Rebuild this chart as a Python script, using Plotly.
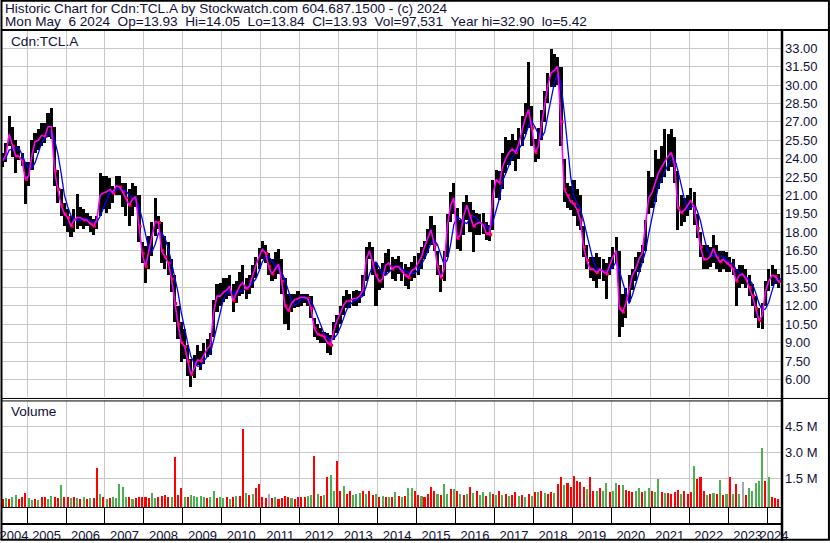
import pandas as pd
import plotly.graph_objects as go

# ─── Data (monthly, May 2004 .. May 2024) ────────────────────────────────────

months = pd.date_range("2004-05-01", "2024-05-01", freq="MS")

price_high = [
    24.5, 25.3, 27.5, 26.6, 25.5, 25.0, 24.5, 23.7,                          # 2004
    23.7, 25.5, 26.1, 26.4, 26.9, 26.9, 27.7, 28.1, 26.6, 23.1, 21.5, 20.4,  # 2005
    19.9, 19.3, 19.9, 21.1, 20.1, 19.9, 19.6, 19.3, 19.1, 19.3, 22.8, 22.6,  # 2006
    22.6, 22.4, 21.8, 22.6, 22.6, 22.0, 22.0, 21.5, 22.0, 21.8, 21.0, 17.2,  # 2007
    16.9, 17.7, 18.8, 20.8, 19.3, 18.8, 17.7, 17.2, 15.8, 14.5, 12.0, 10.7,  # 2008
    10.1, 8.8, 7.7, 8.0, 8.8, 8.3, 9.0, 9.3, 9.8, 12.5, 13.8, 13.9,          # 2009
    14.3, 14.3, 14.5, 13.8, 14.0, 14.8, 15.3, 14.3, 14.5, 15.3, 16.0, 16.7,  # 2010
    17.3, 17.0, 16.3, 15.8, 16.4, 16.6, 15.8, 14.3, 13.0, 13.0, 13.0, 13.2,  # 2011
    13.0, 13.0, 13.0, 12.8, 11.0, 10.5, 10.2, 9.9, 9.8, 9.6, 10.7, 11.3,     # 2012
    12.0, 12.8, 13.3, 13.0, 13.2, 13.3, 13.2, 14.5, 16.8, 17.2, 16.8, 15.5,  # 2013
    15.0, 15.5, 16.3, 16.6, 16.0, 15.8, 16.1, 15.6, 15.4, 15.2, 15.6, 16.1,  # 2014
    16.3, 16.8, 17.3, 18.3, 19.3, 18.6, 16.5, 15.3, 16.5, 19.5, 21.3, 22.0,  # 2015
    20.0, 19.0, 20.5, 21.0, 20.5, 19.8, 19.6, 19.5, 19.6, 18.8, 18.6, 22.3,  # 2016
    23.1, 23.0, 24.5, 25.8, 25.5, 26.0, 25.5, 26.5, 27.5, 28.5, 31.9, 28.3,  # 2017
    25.6, 26.5, 28.0, 29.5, 31.0, 32.9, 32.5, 32.3, 31.5, 24.0, 22.0, 21.8,  # 2018
    22.3, 21.5, 21.0, 18.5, 17.0, 16.0, 16.0, 16.3, 16.0, 15.8, 15.5, 16.0,  # 2019
    16.8, 17.6, 16.5, 13.0, 13.5, 14.5, 15.0, 16.0, 16.4, 17.0, 19.0, 23.0,  # 2020
    22.5, 24.7, 24.0, 25.0, 26.4, 26.0, 26.4, 25.8, 23.0, 21.0, 20.8, 21.0,  # 2021
    21.6, 21.3, 19.5, 18.0, 17.0, 17.0, 16.8, 17.8, 17.0, 16.5, 16.5, 16.4,  # 2022
    16.0, 15.8, 15.0, 15.3, 15.3, 15.0, 14.5, 13.8, 12.8, 11.8, 12.2, 14.0,  # 2023
    15.0, 15.3, 15.0, 14.6, 14.05,                                           # 2024
]

price_low = [
    23.3, 23.7, 25.0, 24.1, 22.8, 23.9, 23.4, 20.3,
    21.8, 23.1, 24.5, 24.7, 25.0, 25.3, 25.8, 25.6, 21.8, 20.4, 19.3, 18.5,
    18.0, 17.6, 18.0, 18.3, 18.5, 18.3, 18.5, 18.0, 17.8, 18.3, 19.3, 19.9,
    19.6, 19.9, 20.4, 21.0, 21.0, 20.1, 19.3, 18.5, 19.3, 20.1, 17.2, 15.5,
    13.9, 15.0, 16.1, 17.7, 18.3, 15.5, 15.0, 14.5, 13.1, 10.7, 9.3, 7.4,
    7.7, 6.3, 5.42, 6.1, 7.2, 6.8, 7.3, 7.8, 8.0, 9.5, 11.5, 12.0,
    12.3, 12.6, 12.8, 11.5, 12.2, 12.8, 13.0, 12.6, 13.0, 13.5, 14.3, 15.0,
    15.8, 15.5, 14.5, 14.0, 14.2, 14.6, 13.0, 10.5, 10.0, 11.5, 11.8, 11.9,
    12.0, 12.2, 12.0, 11.0, 9.5, 9.2, 9.0, 9.0, 8.2, 8.0, 9.2, 9.8,
    10.5, 11.3, 11.8, 11.8, 12.0, 12.0, 12.2, 12.8, 14.0, 15.8, 14.5, 12.0,
    13.3, 13.5, 14.5, 14.8, 14.2, 14.0, 14.6, 14.0, 13.6, 13.4, 14.0, 14.3,
    14.5, 15.0, 15.8, 16.3, 17.0, 16.5, 14.5, 13.1, 14.0, 16.0, 18.8, 19.5,
    16.6, 16.5, 17.8, 19.0, 18.0, 16.4, 17.8, 17.8, 17.9, 17.4, 17.3, 18.2,
    20.8, 20.6, 21.5, 22.8, 23.5, 23.8, 23.0, 24.0, 25.0, 26.0, 26.5, 25.0,
    23.7, 24.0, 25.5, 27.0, 28.5, 29.8, 29.8, 30.0, 25.0, 20.5, 20.0, 19.8,
    19.3, 18.5, 18.2, 16.0, 15.0, 14.3, 14.0, 13.5, 14.2, 14.0, 12.6, 14.5,
    15.0, 15.5, 9.5, 10.3, 11.0, 12.3, 13.3, 14.0, 14.8, 15.5, 16.5, 19.5,
    20.0, 20.5, 21.5, 22.0, 22.5, 23.0, 23.3, 22.0, 18.2, 18.5, 18.8, 19.3,
    19.8, 18.6, 17.5, 16.0, 15.0, 15.0, 15.2, 15.5, 15.0, 14.8, 15.0, 14.8,
    14.8, 14.5, 12.0, 13.5, 13.8, 13.5, 12.8, 12.0, 11.0, 10.2, 10.1, 12.0,
    13.2, 13.6, 13.8, 13.5, 13.84,
]

price_close = [
    23.8, 24.3, 26.0, 25.0, 24.2, 24.2, 23.8, 22.3,
    22.6, 24.3, 25.4, 25.5, 25.9, 25.8, 26.6, 26.6, 23.0, 21.5, 20.2, 19.5,
    19.2, 18.5, 19.0, 19.2, 19.2, 19.0, 19.0, 18.7, 18.5, 19.0, 21.0, 21.2,
    21.3, 21.5, 21.2, 21.8, 21.7, 21.3, 20.8, 20.2, 20.7, 20.9, 18.5, 16.3,
    15.2, 16.5, 17.5, 18.9, 18.8, 16.5, 16.0, 15.5, 14.2, 12.2, 10.5, 9.0,
    8.7, 7.5, 6.4, 6.9, 7.6, 7.5, 8.0, 8.5, 8.8, 11.5, 12.8, 12.8,
    13.1, 13.3, 13.6, 12.4, 13.0, 13.6, 13.9, 13.4, 13.6, 14.5, 15.3, 16.0,
    16.6, 16.3, 15.2, 14.6, 15.0, 15.4, 14.0, 12.0, 11.6, 12.2, 12.5, 12.6,
    12.7, 12.7, 12.6, 11.8, 10.2, 9.7, 9.6, 9.5, 9.0, 8.8, 10.0, 10.8,
    11.4, 12.1, 12.4, 12.4, 12.6, 12.6, 12.8, 13.3, 15.8, 16.5, 15.5, 14.5,
    14.0, 14.2, 15.3, 15.5, 15.0, 15.2, 15.2, 14.8, 14.5, 14.3, 14.9, 15.0,
    15.5, 16.0, 16.8, 17.5, 18.2, 17.0, 15.2, 14.3, 15.0, 18.5, 20.2, 20.8,
    17.5, 17.8, 19.3, 20.2, 19.3, 18.5, 18.7, 18.8, 18.6, 17.9, 17.8, 21.0,
    22.3, 22.0, 23.3, 24.0, 24.5, 24.8, 24.5, 25.2, 26.3, 27.3, 28.0, 26.5,
    24.5, 25.0, 26.7, 28.5, 30.0, 31.0, 31.2, 31.5, 27.0, 21.5, 21.0, 20.5,
    20.3, 19.8, 19.0, 16.8, 15.7, 15.0, 15.0, 14.7, 15.0, 14.8, 14.6, 15.3,
    16.0, 16.5, 11.8, 11.5, 12.2, 13.3, 14.5, 15.0, 15.8, 16.3, 18.5, 20.8,
    21.2, 22.0, 22.8, 23.3, 23.8, 24.2, 24.5, 23.5, 20.0, 19.6, 19.8, 20.2,
    20.6, 20.0, 18.3, 16.8, 15.8, 15.8, 16.0, 16.7, 16.0, 15.6, 15.8, 15.5,
    15.3, 15.0, 14.0, 14.5, 14.6, 14.2, 13.5, 12.8, 11.8, 10.8, 11.2, 13.2,
    14.0, 14.5, 14.4, 14.0, 13.93,
]

# volume in millions of shares
volume_m = [
    0.30, 0.35, 0.30, 0.40, 0.55, 0.30, 0.45, 0.65,
    0.35, 0.25, 0.30, 0.25, 0.40, 0.45, 0.30, 0.50, 0.40, 0.35, 1.13, 0.45,
    0.40, 0.35, 0.45, 0.35, 0.30, 0.40, 0.30, 0.35, 0.35, 2.09, 0.60, 0.40,
    0.30, 0.35, 0.40, 0.35, 1.20, 1.00, 0.45, 0.40, 0.30, 0.35, 0.45, 0.45,
    0.45, 0.35, 0.65, 0.35, 0.40, 0.50, 0.55, 0.45, 0.45, 2.75, 0.55, 0.94,
    0.45, 0.45, 0.55, 0.50, 0.45, 0.50, 0.40, 0.35, 0.45, 0.75, 0.35, 0.40,
    0.35, 0.40, 0.30, 0.45, 0.50, 0.50, 4.34, 0.65, 0.55, 0.60, 0.94, 1.20,
    0.40, 0.35, 0.60, 0.35, 0.40, 0.30, 0.35, 0.50, 0.45, 0.35, 0.30, 0.45,
    0.40, 0.45, 0.50, 0.55, 2.80, 0.60, 0.50, 0.55, 1.57, 1.70, 0.80, 2.50,
    0.80, 1.07, 0.60, 0.75, 0.55, 0.60, 0.65, 0.75, 0.60, 0.80, 0.55, 0.60,
    0.45, 0.50, 0.45, 0.40, 0.45, 0.70, 0.50, 0.45, 0.50, 0.94, 0.94, 0.75,
    0.55, 0.50, 0.45, 0.60, 1.03, 0.80, 0.60, 0.55, 1.19, 0.60, 0.88, 0.90,
    0.75, 0.60, 0.55, 0.60, 1.00, 0.65, 0.80, 0.55, 0.70, 0.50, 0.70, 0.60,
    0.55, 0.80, 0.55, 0.60, 0.50, 0.55, 0.70, 0.50, 0.55, 0.45, 0.60, 0.50,
    0.70, 0.70, 0.75, 0.65, 0.60, 0.70, 0.65, 1.20, 1.60, 1.15, 1.26, 1.00,
    1.65, 1.35, 1.32, 1.00, 0.90, 1.61, 0.80, 0.75, 0.94, 0.80, 1.22, 0.70,
    0.80, 1.26, 1.10, 1.10, 0.85, 0.80, 0.70, 0.80, 0.94, 0.70, 0.75, 0.94,
    0.80, 0.70, 1.46, 0.70, 0.65, 0.65, 0.60, 0.70, 0.85, 0.60, 0.75, 0.60,
    0.70, 2.22, 1.46, 1.61, 0.80, 0.55, 0.60, 0.65, 0.60, 1.42, 0.55, 0.60,
    1.57, 0.60, 1.19, 0.60, 1.32, 0.55, 0.94, 0.80, 1.26, 1.38, 3.24, 1.38,
    1.57, 0.40, 0.35, 0.30, 0.10,
]

# colour of the dominant volume bar each month: g = up, r = down, n = unchanged
volume_dir = (
    "rgrggrrr"
    "ggrgrrggrrgr" "rgrgrgrgrrgr" "grgggggrgrrr" "rrggrrrrgrrr"
    "grgggggrggrg" "grgrgrrgrgrr" "rrnrgrrrrgrr" "rrggrgrgrggr"
    "rgrrgggrgrrg" "rgrgrgrgrggr" "rgrrrrgrggrg" "rgrgrgrggrgr"
    "grgrgrrgrgrg" "rgrgrrgrrgrr" "rrrrgrrgrggr" "ggrgrrrggrgg"
    "rggrgrrrrgrr" "rgrrrgrgrgrg" "rgrgnrgggggr"
    "grrrr"
)

years = list(range(2004, 2025))
price_ticks = [6.0, 7.5, 9.0, 10.5, 12.0, 13.5, 15.0, 16.5, 18.0, 19.5,
               21.0, 22.5, 24.0, 25.5, 27.0, 28.5, 30.0, 31.5, 33.0]
volume_ticks = [1.5e6, 3.0e6, 4.5e6]
volume_tick_text = ["1.5 M", "3.0 M", "4.5 M"]

title_line1 = "Historic Chart for Cdn:TCL.A by Stockwatch.com 604.687.1500 - (c) 2024"
title_line2 = ("Mon May  6 2024  Op=13.93  Hi=14.05  Lo=13.84  Cl=13.93  "
               "Vol=97,531  Year hi=32.90  lo=5.42")

# ─── Style ───────────────────────────────────────────────────────────────────

W, H = 830, 543
PLOT_L, PLOT_R, PLOT_T, PLOT_B = 0, 781, 31, 509
X_START, X_END = pd.Timestamp("2004-05-01"), pd.Timestamp("2024-05-10")
PRICE_RANGE = [4.539, 34.404]
VOL_FLOOR = -0.156e6
VOL_RANGE = [VOL_FLOOR, 5.989e6]

TEXT = "#10103a"
GRID = "#c8c8c8"
GREEN = "#4caf50"
RED = "#ff0000"
FONT = "Liberation Sans, Arial, sans-serif"
DAY_MS = 86400000


def px_x(px):
    return (px - PLOT_L) / (PLOT_R - PLOT_L)


def px_y(py):
    return (PLOT_B - py) / (PLOT_B - PLOT_T)


mid = months + pd.Timedelta(days=15)
close_s = pd.Series(price_close)
ma_long = close_s.rolling(4, min_periods=1).mean()
down = close_s.diff() < 0

vol_colors = {"g": GREEN, "r": RED, "n": "#a8a8a8"}

year_starts = [pd.Timestamp(f"{y}-01-01") for y in years[1:]]
label_pos = []
for y in years:
    a = max(pd.Timestamp(f"{y}-01-01"), X_START)
    b = min(pd.Timestamp(f"{y + 1}-01-01"), X_END)
    label_pos.append(a + (b - a) / 2)

# ─── Figure ──────────────────────────────────────────────────────────────────

fig = go.Figure()

fig.add_trace(go.Bar(
    x=mid, y=[h - l for h, l in zip(price_high, price_low)], base=price_low,
    width=29 * DAY_MS, marker=dict(color="black", line=dict(width=0)),
    xaxis="x", yaxis="y",
))
fig.add_trace(go.Scatter(
    x=(months + pd.Timedelta(days=25))[down], y=close_s[down],
    mode="markers", marker=dict(symbol="square", size=3, color=RED),
    xaxis="x", yaxis="y",
))
fig.add_trace(go.Scatter(
    x=mid, y=ma_long, mode="lines", line=dict(color="#0000ff", width=1.3),
    xaxis="x", yaxis="y",
))
fig.add_trace(go.Scatter(
    x=mid, y=price_close, mode="lines", line=dict(color="#ff00ff", width=1.6),
    xaxis="x", yaxis="y",
))

fig.add_trace(go.Bar(
    x=mid, y=[v * 1e6 - VOL_FLOOR for v in volume_m], base=VOL_FLOOR,
    width=19 * DAY_MS,
    marker=dict(color=[vol_colors[c] for c in volume_dir], line=dict(width=0)),
    xaxis="x2", yaxis="y2",
))

axis_font = dict(family=FONT, size=13, color=TEXT)
head_font = dict(family=FONT, size=13.6, color=TEXT)

fig.update_layout(
    width=W, height=H,
    margin=dict(l=PLOT_L, r=W - PLOT_R, t=PLOT_T, b=H - PLOT_B),
    paper_bgcolor="white", plot_bgcolor="white",
    showlegend=False, bargap=0,
    font=axis_font,
    xaxis=dict(
        type="date", range=[X_START, X_END], domain=[0, 1], anchor="y",
        tickmode="array", tickvals=year_starts, showticklabels=False,
        showgrid=True, gridcolor=GRID, gridwidth=1, zeroline=False, ticks="",
    ),
    xaxis2=dict(
        type="date", range=[X_START, X_END], domain=[0, 1], anchor="y2",
        matches="x",
        tickmode="array", tickvals=label_pos, ticktext=[str(y) for y in years],
        tickangle=0, ticklabeloverflow="allow",
        showgrid=False, ticks="", ticklabelstandoff=16, tickfont=axis_font,
        showline=True, linecolor="black", linewidth=1,
        minor=dict(tickmode="array", tickvals=year_starts, ticks="outside",
                   ticklen=17, tickcolor="black", tickwidth=1,
                   showgrid=True, gridcolor=GRID, gridwidth=1),
    ),
    yaxis=dict(
        domain=[px_y(399), 1.0], range=PRICE_RANGE, side="right", anchor="x",
        tickmode="array", tickvals=price_ticks,
        ticktext=[f"{v:.2f}" for v in price_ticks],
        showgrid=True, gridcolor=GRID, gridwidth=1, zeroline=False,
        ticks="", ticklabelstandoff=3, tickfont=axis_font,
    ),
    yaxis2=dict(
        domain=[0, px_y(402.5)], range=VOL_RANGE, side="right", anchor="x2",
        tickmode="array", tickvals=volume_ticks, ticktext=volume_tick_text,
        showgrid=True, gridcolor=GRID, gridwidth=1, zeroline=False,
        ticks="", ticklabelstandoff=3, tickfont=axis_font,
    ),
)

# frame lines
line_k = dict(color="black")
shapes = [
    dict(x0=px_x(0), x1=px_x(W), y0=px_y(30), y1=px_y(30), line=dict(width=2, **line_k)),
    dict(x0=px_x(0), x1=px_x(W), y0=px_y(400), y1=px_y(400), line=dict(width=1, **line_k)),
    dict(x0=px_x(0), x1=px_x(782), y0=px_y(402.5), y1=px_y(402.5), line=dict(width=1, **line_k)),
    dict(x0=px_x(0), x1=px_x(783), y0=px_y(526), y1=px_y(526), line=dict(width=2, **line_k)),
    dict(x0=px_x(782), x1=px_x(782), y0=px_y(30), y1=px_y(H), line=dict(width=2.5, **line_k)),
]
for s in shapes:
    fig.add_shape(type="line", xref="paper", yref="paper", **s)
fig.add_shape(type="rect", xref="paper", yref="paper",
              x0=px_x(0.5), x1=px_x(W - 1), y0=px_y(0.5), y1=px_y(H - 1),
              line=dict(color="black", width=2), fillcolor="rgba(0,0,0,0)")

nb2 = "\u00a0\u00a0"
ann = dict(xref="paper", yref="paper", showarrow=False, xanchor="left",
           yanchor="middle")
fig.add_annotation(x=px_x(2), y=px_y(8), text=title_line1, font=head_font, **ann)
fig.add_annotation(x=px_x(2), y=px_y(21), text=title_line2.replace("  ", nb2),
                   font=head_font, **ann)
fig.add_annotation(x=px_x(8), y=px_y(42), text="Cdn:TCL.A", font=head_font, **ann)
fig.add_annotation(x=px_x(8), y=px_y(413), text="Volume", font=head_font, **ann)

fig.write_html("out.html", config={"displayModeBar": False},
               post_script="document.body.style.margin='0';")
